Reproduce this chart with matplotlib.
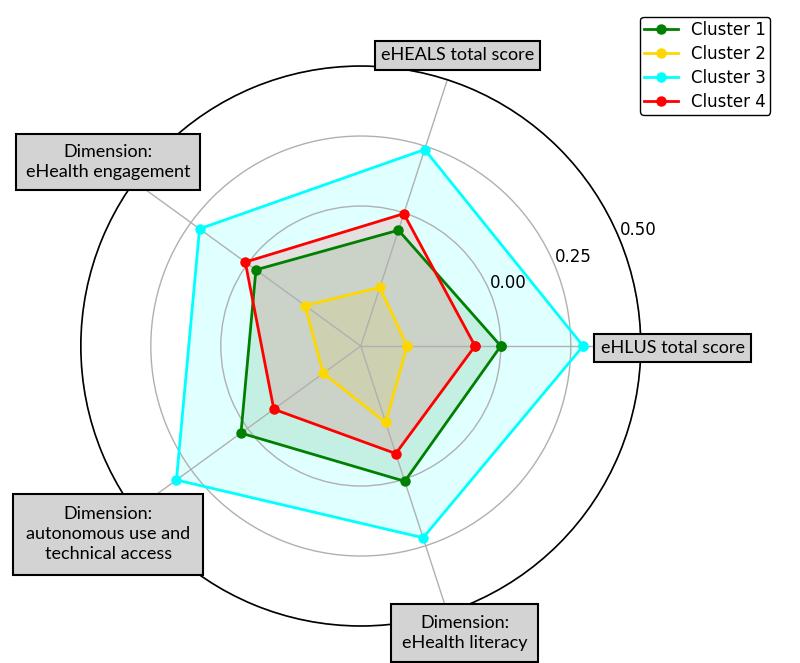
import numpy as np
import matplotlib
matplotlib.use("Agg")
import matplotlib.pyplot as plt

# axes labels, counter-clockwise from the right
categories = [
    "eHLUS total score",
    "eHEALS total score",
    "Dimension:\neHealth engagement",
    "Dimension:\nautonomous use and\ntechnical access",
    "Dimension:\neHealth literacy",
]

cluster_names = ["Cluster 1", "Cluster 2", "Cluster 3", "Cluster 4"]
cluster_1 = [0.00, -0.065, -0.037, 0.029, 0.008]
cluster_2 = [-0.335, -0.28, -0.254, -0.334, -0.213]
cluster_3 = [0.294, 0.238, 0.212, 0.314, 0.22]
cluster_4 = [-0.092, -0.003, 0.010, -0.116, -0.096]
cluster_colors = ["green", "gold", "cyan", "red"]

r_ticks = [0.0, 0.25, 0.5]
r_tick_labels = ["0.00", "0.25", "0.50"]

# boxed labels: small nudges (points) and box padding per label
label_nudge = [(1.4, -1.4), (0.7, -2.9), (-1.4, 1.4), (-1.4, -4.3), (5.8, 5.8)]
label_pad = [0.35, 0.35, 0.55, 0.7, 0.6]


def main():
    fig = plt.figure(figsize=(8, 6.63), dpi=100)
    ax = fig.add_axes([0.101, 0.0558, 0.7, 0.8446], projection="polar")

    n = len(categories)
    angles = np.linspace(0, 2 * np.pi, n, endpoint=False)
    closed = np.concatenate([angles, angles[:1]])

    series = [cluster_1, cluster_2, cluster_3, cluster_4]
    for name, vals, col in zip(cluster_names, series, cluster_colors):
        v = np.concatenate([vals, vals[:1]])
        ax.plot(closed, v, color=col, linewidth=2, marker="o", markersize=6.5, label=name)
        ax.fill(closed, v, color=col, alpha=0.12)

    ax.set_ylim(-0.5, 0.5)
    ax.set_yticks(r_ticks)
    ax.set_yticklabels(r_tick_labels, fontsize=12)
    ax.set_rlabel_position(22.5)
    ax.set_xticks(angles)
    ax.set_xticklabels([])
    ax.grid(color="#b0b0b0", linewidth=1)
    ax.spines["polar"].set_color("black")
    ax.spines["polar"].set_linewidth(1.2)

    # boxed category labels just outside the circle
    for ang, lab, nudge, pad in zip(angles, categories, label_nudge, label_pad):
        ax.annotate(lab, xy=(ang, 0.607), xytext=nudge, textcoords="offset points",
                    ha="center", va="center", fontsize=13,
                    family=["Lato", "DejaVu Sans"], linespacing=1.3,
                    annotation_clip=False, zorder=10,
                    bbox=dict(boxstyle=f"square,pad={pad}", facecolor="#d3d3d3",
                              edgecolor="black", linewidth=1.5))

    ax.legend(loc="upper right", bbox_to_anchor=(0.973, 0.987),
              bbox_transform=fig.transFigure, fontsize=12, labelspacing=0.35,
              borderpad=0.25, edgecolor="black", fancybox=True, framealpha=1)

    fig.savefig("out.png", dpi=100)


if __name__ == "__main__":
    main()
